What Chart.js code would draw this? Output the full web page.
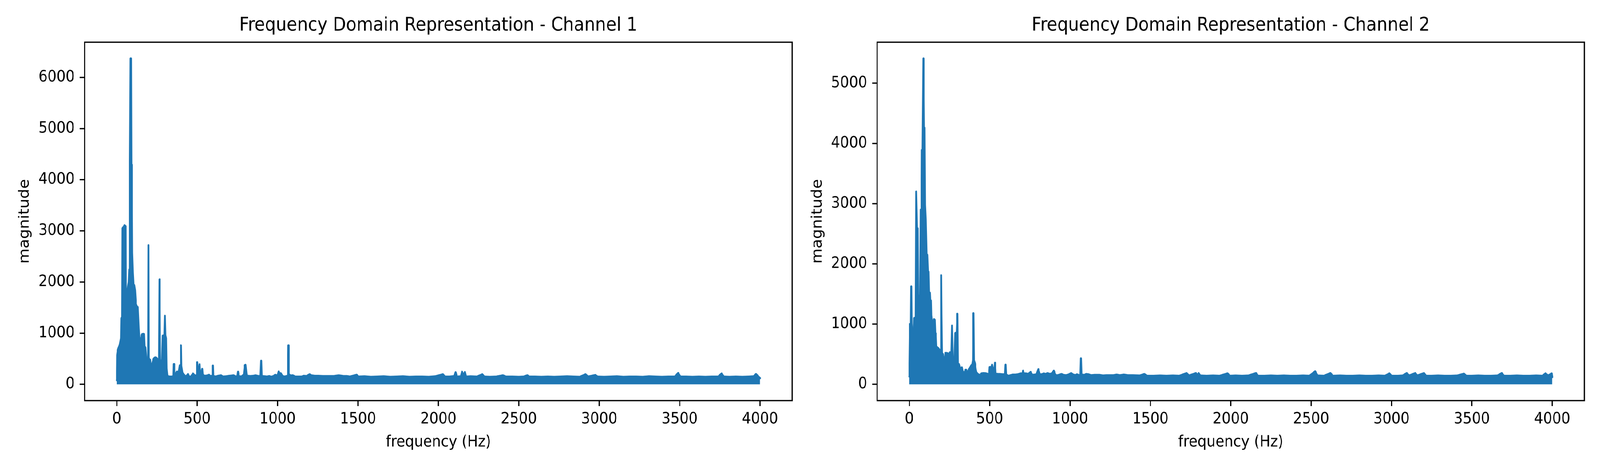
<!DOCTYPE html>
<html>
<head>
<meta charset="utf-8">
<script src="https://cdn.jsdelivr.net/npm/chart.js@4.4.1/dist/chart.umd.min.js"></script>
<style>
html,body{margin:0;padding:0;background:#fff;overflow:hidden;}
#wrap{position:absolute;left:0;top:0;width:4500px;height:1200px;background:#fff;transform-origin:0 0;}
.box{position:absolute;top:0;width:2250px;height:1200px;}
canvas{display:block;}
</style>
</head>
<body>
<div id="wrap">
  <div class="box" style="left:0"><canvas id="c1" width="2250" height="1200"></canvas></div>
  <div class="box" style="left:2250px"><canvas id="c2" width="2250" height="1200"></canvas></div>
</div>
<script src="https://cdn.jsdelivr.net/npm/chart.js@4.4.1/dist/chart.umd.min.js"></script>
<script>
// ---------- data ----------
const titles = ["Frequency Domain Representation - Channel 1", "Frequency Domain Representation - Channel 2"];
const xLabel = "frequency (Hz)";
const yLabel = "magnitude";
const xTicks = [0, 500, 1000, 1500, 2000, 2500, 3000, 3500, 4000];
const yTicks1 = [0, 1000, 2000, 3000, 4000, 5000, 6000];
const yTicks2 = [0, 1000, 2000, 3000, 4000, 5000];

// Channel 1 : frequency (Hz) and magnitude envelope
const ch1Freq = [0,1,2,5,8,12,15,19,22,26,28,31,34,36,40,44,48,52,55,57,60,63,66,70,74,77,80,82,86,88,90,93,96,100,104,108,113,118,125,130,136,141,146,150,153,158,165,170,173,178,183,188,195,197,199,203,207,212,217,220,226,230,236,240,246,252,258,263,266,269,273,277,282,286,291,296,299,302,306,309,313,320,330,340,350,353,355,357,365,372,380,386,392,397,399,401,408,415,420,428,437,443,450,461,474,485,494,498,500,503,507,512,515,518,525,531,534,546,560,574,580,593,596,598,600,616,630,648,660,680,700,715,726,740,750,754,758,775,790,796,800,806,812,830,850,863,880,894,898,901,920,935,948,960,975,985,1000,1007,1015,1020,1030,1045,1060,1065,1067,1069,1080,1094,1110,1130,1150,1162,1180,1199,1210,1230,1254,1280,1310,1350,1380,1410,1431,
1450,1492,1500,1540,1580,1620,1660,1700,1740,1780,1820,1860,1900,1940,1980,2028,2040,2070,2100,2107,2114,2140,2147,2155,2165,2172,2200,2240,2273,2285,2320,2360,2401,2420,2460,2500,2530,2553,2565,2600,2640,2680,2720,2760,2800,2840,2880,2915,2930,2976,2990,3030,3070,3110,3150,3190,3230,3270,3310,3350,3390,3430,3470,3491,3505,3540,3580,3620,3660,3700,3740,3761,3775,3810,3850,3890,3930,3960,3975,3990,4000];
const ch1Mag = [80,250,570,640,680,720,740,780,830,900,1290,1300,1300,3050,3070,3080,3110,3100,3090,900,880,1280,1810,1920,2000,2240,2260,4100,6370,6370,4300,4290,2570,2190,1950,1940,1840,1580,1520,1510,1090,830,860,870,940,980,985,980,740,720,525,500,520,2720,520,480,480,310,300,395,470,500,520,525,520,495,480,480,2050,480,310,400,490,950,955,960,1340,960,900,310,180,155,150,150,155,160,395,160,190,245,245,250,370,375,760,360,220,200,180,150,175,200,150,150,210,170,175,175,430,300,300,300,390,200,200,300,190,165,170,185,160,165,170,365,160,150,165,175,150,155,165,170,175,150,160,245,160,150,190,370,380,200,165,160,165,175,160,160,460,160,155,150,160,145,160,185,170,250,200,215,160,150,165,165,760,200,170,175,150,150,150,165,160,195,175,165,165,160,160,160,175,160,160,
150,185,150,155,145,150,155,145,150,155,145,150,150,145,155,195,150,150,160,235,150,155,245,170,240,150,155,150,195,150,145,150,175,150,150,145,150,175,150,150,145,150,145,150,155,150,145,195,150,180,150,145,150,155,145,150,150,145,155,150,145,150,150,220,150,150,145,150,145,150,150,210,150,145,150,145,150,155,200,150,120];

// Channel 2 : frequency (Hz) and magnitude envelope
const ch2Freq = [0,1,4,7,10,12,14,17,19,24,29,31,36,40,43,48,52,55,57,60,63,67,71,75,79,83,88,92,95,98,102,107,111,115,120,123,128,130,134,136,140,146,151,154,158,161,165,168,175,180,186,192,196,198,200,203,209,214,219,225,231,237,242,248,253,262,266,270,276,282,286,290,295,299,302,308,315,322,327,332,338,345,350,354,359,364,370,375,381,386,392,396,399,402,408,413,417,426,441,449,460,474,490,497,500,507,512,515,522,530,533,537,552,565,580,590,596,599,602,618,630,644,660,675,692,705,708,712,725,740,755,765,780,792,803,812,825,836,848,860,875,890,899,906,915,930,947,960,975,990,1007,1020,1035,1043,1055,1065,1068,1071,1090,1100,1115,1130,1150,1168,1185,1205,1225,1245,1270,1290,1310,1334,1360,1390,1434,
1462,1480,1520,1560,1600,1640,1680,1725,1740,1783,1792,1800,1810,1850,1890,1930,1980,1995,2030,2070,2110,2157,2170,2210,2250,2290,2330,2370,2410,2450,2490,2525,2540,2580,2620,2635,2680,2720,2760,2800,2840,2880,2920,2960,2987,3000,3040,3070,3095,3110,3148,3160,3202,3215,3250,3290,3330,3370,3410,3451,3465,3500,3540,3580,3620,3660,3686,3700,3740,3780,3820,3860,3900,3940,3958,3975,3997,4000];
const ch2Mag = [130,350,1000,1000,1010,1625,1010,870,875,855,870,1100,1100,1120,3200,2590,2590,1300,970,980,1470,1470,2900,1500,3890,3890,5410,4260,4260,2980,2740,2160,2150,1880,1870,1530,1520,1400,1390,1150,1040,1000,1000,1080,1070,850,840,630,610,600,575,570,570,1810,1150,520,500,280,390,520,520,515,510,465,530,530,975,450,445,450,850,855,855,1170,340,335,260,270,280,210,200,205,240,240,190,185,250,260,290,315,330,400,1180,400,350,250,200,170,150,180,185,183,170,170,285,285,290,325,240,240,357,175,170,170,165,165,165,325,160,140,150,160,160,165,180,180,225,180,180,170,205,155,160,165,250,165,165,180,170,185,170,185,225,175,145,155,170,155,150,160,185,160,150,165,150,155,430,160,155,170,165,150,155,155,155,145,150,150,150,160,150,160,150,150,145,
170,140,140,145,140,145,140,185,145,185,150,185,145,140,145,140,180,140,145,140,145,185,140,140,145,140,145,140,140,145,140,215,145,140,185,140,145,140,140,145,140,140,145,140,180,140,140,145,185,145,185,145,185,140,140,145,140,140,145,175,140,140,145,140,140,145,185,140,140,145,140,140,145,140,180,145,180,120];

// ---------- chart construction ----------
// The page is laid out at 4500x1200 and then fitted to the viewport.
const wrap = document.getElementById('wrap');
wrap.style.transform = 'scale(' + ((window.innerWidth || 4500) / 4500) + ',' + ((window.innerHeight || 1200) / 1200) + ')';

const BLUE = '#1f77b4';
const FONT = 'DejaVu Sans';

const framePlugin = {
  id: 'frame',
  afterDraw(chart) {
    const a = chart.chartArea, ctx = chart.ctx;
    ctx.save();
    ctx.strokeStyle = '#000';
    ctx.lineWidth = 3.3;
    ctx.strokeRect(a.left, a.top, a.right - a.left, a.bottom - a.top);
    ctx.restore();
  }
};

function makeChart(id, title, freq, mag, yTicks, yAxisWidth, rightPad, yTitlePad) {
  const pts = freq.map((f, i) => ({x: f, y: mag[i]}));
  const fMin = Math.min(...freq), fMax = Math.max(...freq);
  const xPad = 0.05 * (fMax - fMin);
  const mHi = Math.max(...mag), mLo = 0;
  const yPad = 0.05 * (mHi - mLo);
  const gridOpts = {display: true, drawOnChartArea: false, drawTicks: true, tickLength: 14, color: '#000', lineWidth: 3.3};
  return new Chart(document.getElementById(id), {
    type: 'line',
    data: {
      datasets: [{
        data: pts,
        borderColor: BLUE,
        backgroundColor: BLUE,
        borderWidth: 5.5,
        borderJoinStyle: 'round',
        borderCapStyle: 'round',
        pointRadius: 0,
        tension: 0,
        fill: 'origin'
      }]
    },
    options: {
      responsive: false,
      animation: false,
      devicePixelRatio: 2,
      layout: {padding: {left: 0, right: rightPad, top: 0, bottom: 0}},
      plugins: {
        legend: {display: false},
        tooltip: {enabled: false},
        title: {
          display: true,
          text: title,
          fullSize: false,
          color: '#000',
          font: {family: FONT, size: 48, weight: 'normal', lineHeight: 1.2},
          padding: {top: 37, bottom: 13.4}
        }
      },
      scales: {
        x: {
          type: 'linear',
          min: fMin - xPad,
          max: fMax + xPad,
          afterBuildTicks: s => { s.ticks = xTicks.map(v => ({value: v})); },
          afterFit: s => { s.height = 175; },
          border: {display: false},
          grid: gridOpts,
          ticks: {color: '#000', font: {family: FONT, size: 40}, padding: 10, maxRotation: 0, autoSkip: false, callback: v => String(v)},
          title: {display: true, text: xLabel, color: '#000', font: {family: FONT, size: 40, lineHeight: 1.2}, padding: {top: 0, bottom: 44}}
        },
        y: {
          type: 'linear',
          min: mLo - yPad,
          max: mHi + yPad,
          afterBuildTicks: s => { s.ticks = yTicks.map(v => ({value: v})); },
          afterFit: s => { s.width = yAxisWidth; },
          border: {display: false},
          grid: gridOpts,
          ticks: {color: '#000', font: {family: FONT, size: 40}, padding: 14, autoSkip: false, callback: v => String(v)},
          title: {display: true, text: yLabel, color: '#000', font: {family: FONT, size: 40, lineHeight: 1.2}, padding: {top: yTitlePad, bottom: 0}}
        }
      }
    },
    plugins: [framePlugin]
  });
}

makeChart('c1', titles[0], ch1Freq, ch1Mag, yTicks1, 238, 22, 46);
makeChart('c2', titles[1], ch2Freq, ch2Mag, yTicks2, 217, 44, 26);
</script>
</body>
</html>
